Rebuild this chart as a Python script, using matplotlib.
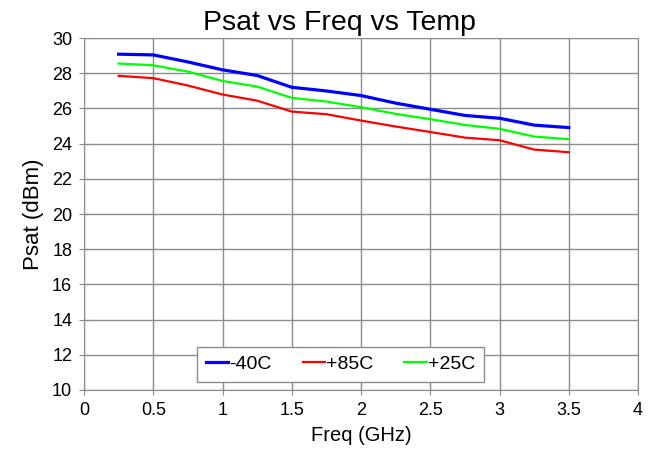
import matplotlib
matplotlib.use("Agg")
import matplotlib.pyplot as plt

plt.rcParams['font.family'] = ['Liberation Sans', 'DejaVu Sans']

freq = [0.25, 0.5, 0.75, 1.0, 1.25, 1.5, 1.75, 2.0, 2.25, 2.5, 2.75, 3.0, 3.25, 3.5]
psat_m40 = [29.08, 29.04, 28.64, 28.19, 27.87, 27.2, 26.99, 26.73, 26.3, 25.95, 25.6, 25.44, 25.05, 24.91]
psat_p85 = [27.85, 27.72, 27.3, 26.79, 26.44, 25.82, 25.67, 25.31, 24.97, 24.66, 24.34, 24.19, 23.66, 23.51]
psat_p25 = [28.55, 28.45, 28.09, 27.56, 27.24, 26.6, 26.39, 26.07, 25.69, 25.39, 25.06, 24.84, 24.4, 24.25]

fig = plt.figure(figsize=(6.52, 4.61), dpi=100)
ax = fig.add_axes([84 / 652, 1 - 390 / 461, (638 - 84) / 652, (390 - 38) / 461])

ax.plot(freq, psat_m40, color='#0000ff', lw=2.3, label='-40C')
ax.plot(freq, psat_p85, color='#ff0000', lw=1.6, label='+85C')
ax.plot(freq, psat_p25, color='#00ff00', lw=1.6, label='+25C')

ax.set_xlim(0, 4)
ax.set_ylim(10, 30)
ax.set_xticks([0, 0.5, 1, 1.5, 2, 2.5, 3, 3.5, 4])
ax.set_xticklabels(['0', '0.5', '1', '1.5', '2', '2.5', '3', '3.5', '4'])
ax.set_yticks(range(10, 31, 2))
ax.grid(True, color='#8c8c8c', lw=1)
ax.set_axisbelow(True)
for s in ax.spines.values():
    s.set_color('#8c8c8c')
ax.tick_params(labelsize=13, color='#8c8c8c', length=7, direction='inout', pad=5)

# title sits a bit left of the axes centre in the original
ax.set_title('Psat vs Freq vs Temp', fontsize=20.5, x=0.461, pad=6)
ax.set_xlabel('Freq (GHz)', fontsize=14.5, labelpad=5)
ax.set_ylabel('Psat (dBm)', fontsize=16, labelpad=6)

leg = ax.legend(loc='lower left', bbox_to_anchor=(197 / 652, 1 - 382 / 461),
                bbox_transform=fig.transFigure, borderaxespad=0,
                ncol=3, fontsize=14,
                frameon=True, fancybox=False, edgecolor='#8c8c8c', framealpha=1,
                handlelength=1.15, handletextpad=0.05, columnspacing=1.6,
                borderpad=0.45)
leg.get_frame().set_linewidth(1)

fig.savefig('out.png', dpi=100)
